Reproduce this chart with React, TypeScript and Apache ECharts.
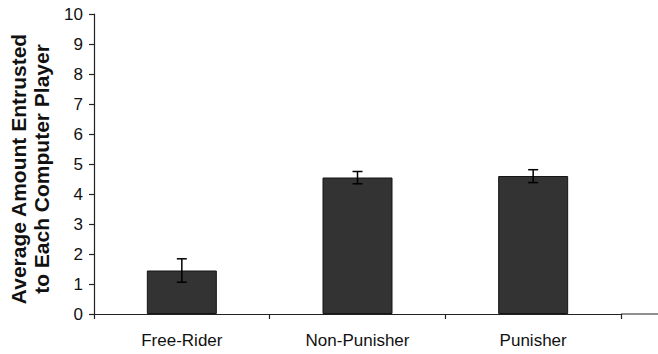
import React, { useEffect, useRef } from "react";
import * as echarts from "echarts";

const categories = ["Free-Rider", "Non-Punisher", "Punisher"];
const means = [1.45, 4.55, 4.6];
const errLow = [1.06, 4.34, 4.38];
const errHigh = [1.84, 4.75, 4.81];
const yTicks = [0, 1, 2, 3, 4, 5, 6, 7, 8, 9, 10];
const yTitle = "Average Amount Entrusted\nto Each Computer Player";

export default function App() {
  const ref = useRef<HTMLDivElement>(null);
  useEffect(() => {
    if (!ref.current) return;
    const chart = echarts.init(ref.current, undefined, { renderer: "svg" });
    const errData = categories.map((_, i) => [i, errLow[i], errHigh[i]]);
    chart.setOption({
      animation: false,
      backgroundColor: "#ffffff",
      textStyle: { fontFamily: "Liberation Sans, Arial, sans-serif" },
      grid: { left: 94, right: 37, top: 14, bottom: 40, containLabel: false, outerBoundsMode: "none" },
      xAxis: {
        type: "category",
        data: categories,
        axisLine: { show: true, lineStyle: { color: "#222", width: 1.2 } },
        axisTick: { show: true, alignWithLabel: false, length: 5, lineStyle: { color: "#222", width: 1.2 } },
        axisLabel: { color: "#111", fontSize: 17, margin: 18 },
        splitLine: { show: false },
      },
      yAxis: {
        type: "value",
        min: yTicks[0],
        max: yTicks[yTicks.length - 1],
        interval: 1,
        name: yTitle,
        nameLocation: "middle",
        nameRotate: 90,
        nameGap: 36,
        nameTextStyle: { fontSize: 21, fontWeight: "bold", color: "#111", lineHeight: 23, padding: [0, 10, 0, 0] },
        axisLine: { show: true, lineStyle: { color: "#222", width: 1.2 } },
        axisTick: { show: true, length: 5, lineStyle: { color: "#222", width: 1.2 } },
        axisLabel: { color: "#111", fontSize: 17, margin: 11 },
        splitLine: { show: false },
      },
      series: [
        {
          type: "bar",
          data: means,
          barWidth: 70,
          itemStyle: { color: "#333333", borderColor: "#151515", borderWidth: 1 },
        },
        {
          type: "custom",
          data: errData,
          z: 10,
          renderItem: (params: any, api: any) => {
            const x = api.value(0);
            const lo = api.coord([x, api.value(1)]);
            const hi = api.coord([x, api.value(2)]);
            const half = 5;
            const style = { stroke: "#000", lineWidth: 1.5, fill: "none" };
            return {
              type: "group",
              children: [
                { type: "line", shape: { x1: hi[0], y1: hi[1], x2: lo[0], y2: lo[1] }, style },
                { type: "line", shape: { x1: hi[0] - half, y1: hi[1], x2: hi[0] + half, y2: hi[1] }, style },
                { type: "line", shape: { x1: lo[0] - half, y1: lo[1], x2: lo[0] + half, y2: lo[1] }, style },
              ],
            };
          },
        },
      ],
      graphic: [
        {
          type: "line",
          shape: { x1: 621, y1: 314, x2: 658, y2: 314 },
          style: { stroke: "#222", lineWidth: 1.2 },
        },
      ],
    });
    return () => chart.dispose();
  }, []);
  return <div ref={ref} style={{ width: 658, height: 354, position: "absolute", left: 0, top: 0 }} />;
}
